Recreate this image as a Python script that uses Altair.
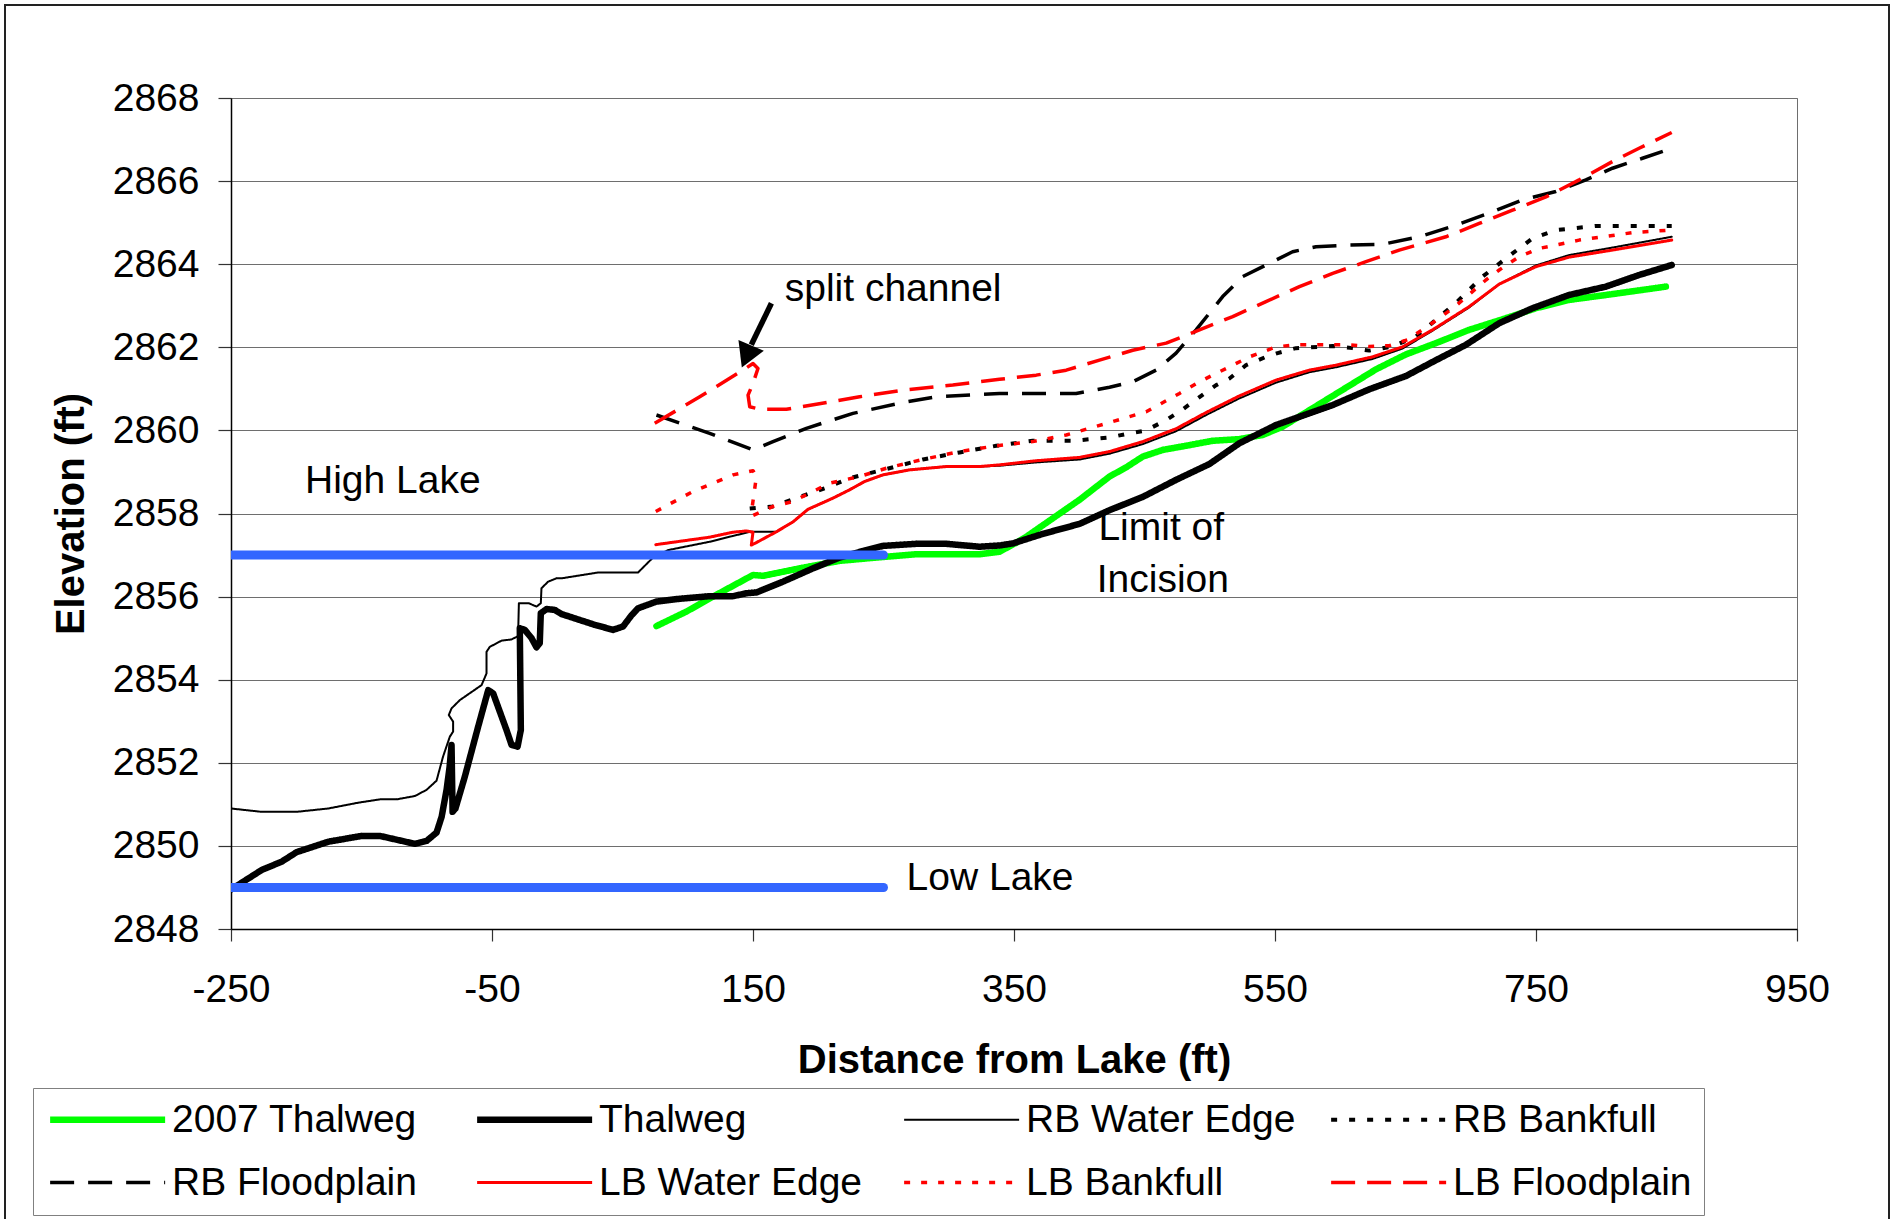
import altair as alt
import pandas as pd

# ---- longitudinal profile data (distance from lake in ft, elevation in ft) ----
thalweg_2007_x = [76.0, 99.0, 119.4, 150.0, 157.7, 185.8, 216.4, 244.5, 275.1, 323.6, 338.9, 353.0,
                  359.4, 400.2, 423.2, 435.9, 448.7, 464.0, 481.9, 502.3, 522.7, 540.6, 555.9, 594.2,
                  627.4, 650.4, 673.3, 698.8, 726.9, 749.9, 775.4, 808.6, 849.5]
thalweg_2007_y = [2855.29, 2855.64, 2856.00, 2856.52, 2856.50, 2856.68, 2856.86, 2856.94, 2857.02, 2857.02,
                  2857.08, 2857.32, 2857.44, 2858.33, 2858.89, 2859.11, 2859.37, 2859.53, 2859.63, 2859.75,
                  2859.79, 2859.89, 2860.09, 2860.83, 2861.47, 2861.83, 2862.10, 2862.42, 2862.70, 2862.94,
                  2863.14, 2863.28, 2863.46]

thalweg_x = [-250.0, -226.5, -211.2, -199.7, -175.5, -149.9, -135.9, -109.1, -100.1, -92.5, -88.6, -84.8,
             -82.5, -81.0, -80.6, -80.2, -78.0, -70.8, -60.6, -52.9, -49.1, -38.9, -35.0, -30.4, -27.9,
             -28.7, -24.9, -19.7, -15.9, -13.4, -12.6, -8.2, -1.9, 3.3, 28.8, 42.8, 50.4, 56.9, 62.0,
             76.0, 91.3, 116.8, 134.7, 144.9, 152.6, 173.0, 196.0, 216.4, 236.8, 249.6, 275.1, 298.1,
             323.6, 338.9, 349.1, 372.1, 400.2, 423.2, 448.7, 474.2, 499.7, 522.7, 550.8, 594.2, 622.3,
             650.4, 673.3, 696.3, 721.8, 747.3, 775.4, 803.5, 829.0, 854.0]
thalweg_y = [2848.95, 2849.42, 2849.62, 2849.85, 2850.10, 2850.24, 2850.24, 2850.05, 2850.12, 2850.32,
             2850.70, 2851.35, 2851.90, 2852.43, 2851.60, 2850.82, 2850.90, 2851.67, 2852.87, 2853.75,
             2853.67, 2852.79, 2852.43, 2852.39, 2852.79, 2855.24, 2855.20, 2855.00, 2854.78, 2854.88,
             2855.60, 2855.70, 2855.68, 2855.58, 2855.32, 2855.20, 2855.28, 2855.55, 2855.72, 2855.88,
             2855.94, 2856.01, 2856.01, 2856.08, 2856.10, 2856.36, 2856.68, 2856.94, 2857.12, 2857.22,
             2857.27, 2857.27, 2857.20, 2857.23, 2857.28, 2857.51, 2857.75, 2858.08, 2858.40, 2858.81,
             2859.19, 2859.69, 2860.13, 2860.61, 2860.99, 2861.31, 2861.69, 2862.06, 2862.58, 2862.94,
             2863.26, 2863.46, 2863.74, 2863.98]

rb_water_x = [-250.0, -226.5, -199.7, -175.5, -152.5, -135.9, -123.1, -109.1, -100.1, -92.5, -87.5, -82.3,
              -79.8, -79.8, -83.1, -81.0, -74.6, -58.0, -54.2, -54.2, -51.7, -42.7, -35.0, -30.0, -29.4,
              -21.8, -15.9, -12.6, -12.1, -7.0, -0.6, 3.3, 31.3, 61.9, 73.4, 85.0, 116.8, 134.7, 147.5,
              167.9, 180.7, 192.1, 211.3, 224.0, 235.5, 249.6, 270.0, 298.1, 323.6, 338.9, 367.0, 400.2,
              423.2, 448.7, 474.2, 497.2, 522.7, 550.8, 576.3, 596.7, 624.8, 647.7, 670.7, 698.8, 721.8,
              749.9, 775.4, 808.6, 854.0]
rb_water_y = [2850.90, 2850.82, 2850.82, 2850.90, 2851.04, 2851.12, 2851.12, 2851.20, 2851.35, 2851.57,
              2852.15, 2852.63, 2852.75, 2852.99, 2853.15, 2853.31, 2853.51, 2853.87, 2854.15, 2854.67,
              2854.79, 2854.94, 2854.97, 2855.05, 2855.84, 2855.84, 2855.76, 2855.84, 2856.20, 2856.36,
              2856.44, 2856.44, 2856.58, 2856.58, 2856.94, 2857.12, 2857.32, 2857.46, 2857.56, 2857.56,
              2857.80, 2858.10, 2858.37, 2858.57, 2858.77, 2858.93, 2859.05, 2859.13, 2859.13, 2859.15,
              2859.23, 2859.30, 2859.44, 2859.67, 2859.98, 2860.37, 2860.77, 2861.15, 2861.40, 2861.52,
              2861.72, 2861.97, 2862.40, 2862.96, 2863.52, 2863.97, 2864.22, 2864.40, 2864.66]

rb_bankfull_x = [147.5, 165.3, 180.6, 208.7, 224.0, 252.1, 280.2, 308.3, 336.4, 364.4, 395.0, 423.2, 438.5,
                 451.3, 466.6, 478.1, 490.8, 504.9, 515.1, 527.8, 543.1, 552.0, 566.1, 594.2, 609.5, 622.3,
                 640.1, 658.0, 665.7, 688.7, 709.0, 732.0, 747.3, 765.2, 795.9, 854.0]
rb_bankfull_y = [2858.12, 2858.17, 2858.34, 2858.65, 2858.85, 2859.07, 2859.30, 2859.47, 2859.63, 2859.75,
                 2859.75, 2859.83, 2859.93, 2860.00, 2860.25, 2860.48, 2860.77, 2861.09, 2861.25, 2861.57,
                 2861.77, 2861.86, 2861.98, 2862.03, 2861.98, 2861.92, 2862.02, 2862.26, 2862.46, 2863.07,
                 2863.70, 2864.26, 2864.62, 2864.82, 2864.92, 2864.92]

rb_flood_x = [76.0, 116.8, 150.0, 165.3, 190.9, 226.6, 264.9, 290.4, 338.9, 397.6, 423.2, 441.0, 458.9,
              474.2, 489.5, 499.7, 509.9, 525.2, 543.1, 563.5, 581.4, 607.0, 632.5, 660.6, 688.7, 714.2,
              739.7, 765.2, 788.2, 808.6, 831.6, 854.0]
rb_flood_y = [2860.37, 2859.93, 2859.53, 2859.73, 2860.05, 2860.41, 2860.67, 2860.81, 2860.89, 2860.89,
              2861.04, 2861.17, 2861.45, 2861.86, 2862.42, 2862.82, 2863.22, 2863.70, 2863.98, 2864.30,
              2864.42, 2864.46, 2864.48, 2864.66, 2864.94, 2865.23, 2865.55, 2865.75, 2866.03, 2866.31,
              2866.55, 2866.79]

lb_water_x = [75.5, 116.8, 134.7, 144.9, 150.0, 148.7, 152.6, 167.9, 180.7, 192.1, 211.3, 224.0, 235.5,
              249.6, 270.0, 298.1, 323.6, 338.9, 367.0, 400.2, 423.2, 448.7, 474.2, 497.2, 522.7, 550.8,
              576.3, 596.7, 624.8, 647.7, 670.7, 698.8, 721.8, 749.9, 775.4, 808.6, 854.0]
lb_water_y = [2857.25, 2857.43, 2857.55, 2857.58, 2857.55, 2857.24, 2857.30, 2857.56, 2857.80, 2858.10,
              2858.37, 2858.57, 2858.77, 2858.93, 2859.05, 2859.13, 2859.13, 2859.17, 2859.27, 2859.35,
              2859.49, 2859.73, 2860.04, 2860.43, 2860.83, 2861.21, 2861.45, 2861.57, 2861.77, 2862.01,
              2862.42, 2862.98, 2863.52, 2863.94, 2864.17, 2864.34, 2864.58]

lb_bankfull_x = [75.5, 104.1, 134.7, 150.0, 152.6, 148.7, 150.0, 165.3, 180.6, 208.7, 231.7, 252.1, 280.0,
                 308.3, 336.4, 364.4, 390.0, 423.2, 451.3, 476.8, 492.1, 512.5, 530.4, 550.8, 566.1, 594.2,
                 607.0, 622.3, 637.6, 651.6, 675.9, 688.7, 711.6, 721.8, 737.1, 752.4, 765.2, 783.1, 808.6,
                 823.9, 852.0]
lb_bankfull_y = [2858.05, 2858.53, 2858.93, 2859.03, 2858.89, 2858.00, 2857.95, 2858.17, 2858.29, 2858.73,
                 2858.89, 2859.09, 2859.30, 2859.49, 2859.63, 2859.73, 2859.89, 2860.19, 2860.45, 2860.89,
                 2861.17, 2861.49, 2861.77, 2862.01, 2862.06, 2862.06, 2862.06, 2862.02, 2862.04, 2862.18,
                 2862.70, 2863.00, 2863.62, 2863.86, 2864.18, 2864.38, 2864.46, 2864.58, 2864.69, 2864.76,
                 2864.82]

lb_flood_x = [74.7, 109.2, 142.3, 150.0, 153.8, 150.0, 146.2, 147.5, 155.1, 175.6, 200.8, 231.7, 264.9,
              303.1, 338.9, 367.0, 390.0, 415.5, 441.0, 466.6, 492.1, 517.6, 543.1, 568.7, 594.2, 619.7,
              645.2, 681.0, 706.5, 732.0, 757.6, 783.1, 808.6, 829.0, 854.0]
lb_flood_y = [2860.17, 2860.81, 2861.45, 2861.61, 2861.49, 2861.13, 2860.85, 2860.57, 2860.51, 2860.51,
              2860.64, 2860.81, 2860.97, 2861.09, 2861.23, 2861.33, 2861.45, 2861.69, 2861.93, 2862.10,
              2862.42, 2862.74, 2863.10, 2863.46, 2863.78, 2864.06, 2864.34, 2864.66, 2864.98, 2865.30,
              2865.62, 2866.03, 2866.47, 2866.79, 2867.17]

# lake levels (horizontal reference lines)
lake_names = ["High Lake", "Low Lake"]
lake_elev = [2857.0, 2849.0]
lake_from = [-250.0, -250.0]
lake_to = [250.0, 250.0]

# annotation text, anchored at its left baseline
note_text = ["split channel", "High Lake", "Low Lake", "Limit of", "Incision"]
note_x = [174.3, -193.3, 267.7, 414.7, 413.4]
note_y = [2863.12, 2858.49, 2848.94, 2857.36, 2856.12]

# arrow pointing at the split channel
arrow_tail = (164.1, 2863.06)
arrow_base = (148.7, 2862.06)
arrow_head = (145.0, 2861.78)

# ---- series styling ----
SERIES = ["2007 Thalweg", "Thalweg", "RB Water Edge", "RB Bankfull",
          "RB Floodplain", "LB Water Edge", "LB Bankfull", "LB Floodplain"]
COLORS = ["#00ff00", "#000000", "#000000", "#000000", "#000000", "#ff0000", "#ff0000", "#ff0000"]
WIDTHS = [6.5, 6.5, 2, 4, 3.5, 3, 3.5, 3.5]
DASHES = [[1, 0], [1, 0], [1, 0], [6, 12], [24, 14], [1, 0], [6, 11], [24, 12]]

series_xy = {
    "2007 Thalweg": (thalweg_2007_x, thalweg_2007_y),
    "Thalweg": (thalweg_x, thalweg_y),
    "RB Water Edge": (rb_water_x, rb_water_y),
    "RB Bankfull": (rb_bankfull_x, rb_bankfull_y),
    "RB Floodplain": (rb_flood_x, rb_flood_y),
    "LB Water Edge": (lb_water_x, lb_water_y),
    "LB Bankfull": (lb_bankfull_x, lb_bankfull_y),
    "LB Floodplain": (lb_flood_x, lb_flood_y),
}

rows = []
for name in SERIES:
    xs, ys = series_xy[name]
    for i, (xv, yv) in enumerate(zip(xs, ys)):
        rows.append({"series": name, "x": xv, "y": yv, "i": i})
profile = pd.DataFrame(rows)

lakes = pd.DataFrame({"name": lake_names, "y": lake_elev, "x0": lake_from, "x1": lake_to})
notes = pd.DataFrame({"text": note_text, "x": note_x, "y": note_y})
arrow_shaft = pd.DataFrame({"x": [arrow_tail[0]], "y": [arrow_tail[1]],
                            "x2": [arrow_base[0]], "y2": [arrow_base[1]]})
arrow_tip = pd.DataFrame({"x": [arrow_head[0]], "y": [arrow_head[1]]})

FONT = "Liberation Sans"
W, H = 1566, 831

x_scale = alt.Scale(domain=[-250, 950], nice=False, zero=False)
y_scale = alt.Scale(domain=[2848, 2868], nice=False, zero=False)

x_axis = alt.Axis(title="Distance from Lake (ft)", values=list(range(-250, 951, 200)),
                  labelExpr="datum.value + ''",
                  grid=False, tickSize=12, labelPadding=29, labelFlush=False, labelOverlap=False,
                  titleY=143, titleBaseline="alphabetic")
y_axis = alt.Axis(title="Elevation (ft)", values=list(range(2848, 2869, 2)),
                  labelExpr="datum.value + ''",
                  grid=True, tickSize=13, labelPadding=19, labelOverlap=False,
                  titleX=-148, titleBaseline="alphabetic")

# legend swatch: a horizontal stroke drawn from the left edge of the symbol box,
# four box-widths long, so rows stay as tall as the label text
SWATCH = 28.75
legend = alt.Legend(title=None, orient="none", direction="horizontal", legendX=-198, legendY=990,
                    columns=4, symbolType="M-1,0H7", symbolSize=SWATCH * SWATCH,
                    labelFontSize=39, labelFont=FONT, labelLimit=800, labelOffset=88,
                    columnPadding=22, rowPadding=23, padding=12,
                    strokeColor="#808080", fillColor="white", gridAlign="all", labelColor="black")

color_enc = alt.Color("series:N", scale=alt.Scale(domain=SERIES, range=COLORS), legend=legend)
dash_enc = alt.StrokeDash("series:N", scale=alt.Scale(domain=SERIES, range=DASHES), legend=legend)
width_enc = alt.StrokeWidth("series:N", scale=alt.Scale(type="ordinal", domain=SERIES, range=WIDTHS),
                            legend=legend)

X = alt.X("x:Q", scale=x_scale, axis=x_axis)
Y = alt.Y("y:Q", scale=y_scale, axis=y_axis)

# outer frame around the whole figure
frame = alt.Chart(pd.DataFrame({"k": [0]})).mark_rect(
    fill=None, stroke="#222222", strokeWidth=2
).encode(x=alt.value(-226), x2=alt.value(1658), y=alt.value(-93), y2=alt.value(1135))

layers = [frame]
for name, dash in zip(SERIES, DASHES):
    solid = dash == [1, 0]
    layers.append(
        alt.Chart(profile)
        .transform_filter(alt.datum.series == name)
        .mark_line(strokeCap="round" if solid else "butt", strokeJoin="round", clip=True)
        .encode(x=X, y=Y, order="i:Q", color=color_enc, strokeDash=dash_enc, strokeWidth=width_enc)
    )

lake_lines = alt.Chart(lakes).mark_rule(color="#3366ff", strokeWidth=9, strokeCap="round", clip=True).encode(
    x=alt.X("x0:Q", scale=x_scale, axis=x_axis), x2="x1:Q", y=alt.Y("y:Q", scale=y_scale, axis=y_axis)
)

note_marks = alt.Chart(notes).mark_text(
    align="left", baseline="alphabetic", fontSize=39, font=FONT, color="black"
).encode(x=alt.X("x:Q", scale=x_scale), y=alt.Y("y:Q", scale=y_scale), text="text:N")

shaft = alt.Chart(arrow_shaft).mark_rule(color="black", strokeWidth=5.5).encode(
    x=alt.X("x:Q", scale=x_scale), y=alt.Y("y:Q", scale=y_scale), x2="x2:Q", y2="y2:Q"
)
head = alt.Chart(arrow_tip).mark_point(
    shape="triangle-up", filled=True, color="black", size=760, angle=203, opacity=1
).encode(x=alt.X("x:Q", scale=x_scale), y=alt.Y("y:Q", scale=y_scale))

chart = (
    alt.layer(*layers, lake_lines, note_marks, shaft, head)
    .properties(width=W, height=H, autosize=alt.AutoSizeParams(type="none"),
                padding={"left": 231, "top": 98, "right": 103, "bottom": 290})
    .configure(font=FONT, background="white")
    .configure_view(stroke="#6e6e6e", strokeWidth=1)
    .configure_axis(labelFont=FONT, labelFontSize=39, labelColor="black",
                    titleFont=FONT, titleFontSize=40, titleFontWeight="bold", titleColor="black",
                    domainColor="black", domainWidth=1.5, tickColor="#333333", tickWidth=1.2,
                    gridColor="#6e6e6e", gridWidth=1)
)

chart.save("out.html", embed_options={"renderer": "svg", "actions": False})
